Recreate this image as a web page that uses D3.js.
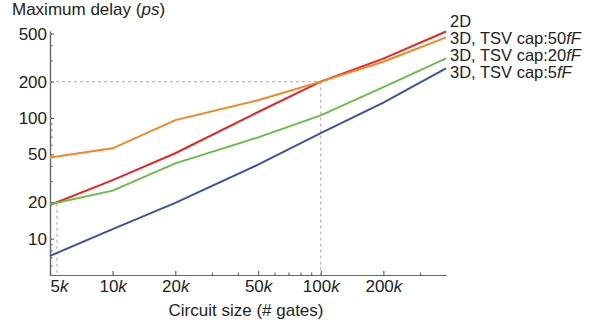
<!DOCTYPE html>
<html>
<head>
<meta charset="UTF-8">
<style>
body { margin: 0; background: white; }
text { font-family: "Liberation Sans", Arial, sans-serif; fill: #222; }
</style>
</head>
<body>
<script src="https://d3js.org/d3.v7.min.js"></script>
<script>

// data
var gates = [5000, 10000, 20000, 50000, 100000, 200000, 400000]
var delay2D = [19, 30.5, 51, 112, 200, 310, 520]
var delay50 = [47, 56, 96, 140, 200, 292, 465]
var delay20 = [19.3, 25, 42, 69, 105, 180, 312]
var delay5 = [7.2, 12, 19.8, 41, 75, 134, 257]
var seriesNames = ['2D', '3D, TSV cap:50', '3D, TSV cap:20', '3D, TSV cap:5']
var seriesColors = ['#ec2327', '#f7861f', '#6bbd45', '#3953a4']
var xMajor = [5000, 10000, 20000, 50000, 100000, 200000]
var xMinor = [30000, 40000, 60000, 70000, 80000, 90000, 300000]
var yMajor = [10, 20, 50, 100, 200, 500]
var yMinor = [6, 7, 8, 9, 30, 40, 60, 70, 80, 90, 300, 400]
// reference marks (dashed)
var refX = [5400, 100000]
var refY = 200

var width = 600, height = 326

var svg = d3.select('body').append('svg')
    .attr('width', width)
    .attr('height', height)

var x = d3.scaleLog().domain([5000, 400000]).range([50, 446])
var y = d3.scaleLog().domain([5, 525]).range([275, 31])

// dashed reference lines
svg.append('line')
    .attr('x1', x(5000)).attr('x2', x(refX[1]))
    .attr('y1', y(refY)).attr('y2', y(refY))
svg.append('line')
    .attr('x1', x(refX[1])).attr('x2', x(refX[1]))
    .attr('y1', y(refY)).attr('y2', y(5))
svg.append('line')
    .attr('x1', x(refX[0])).attr('x2', x(refX[0]))
    .attr('y1', y(19.5)).attr('y2', y(5))
svg.selectAll('line')
    .attr('stroke', '#dca6d6')
    .attr('stroke-width', 1.3)
    .attr('stroke-dasharray', '3,3')

// axes
var xAxis = d3.axisBottom(x).tickValues(xMajor).tickSize(-4).tickSizeOuter(0)
    .tickFormat(d => d / 1000)
var xAxisMinor = d3.axisBottom(x).tickValues(xMinor).tickSize(-2.5).tickSizeOuter(0)
    .tickFormat('')
var yAxis = d3.axisLeft(y).tickValues(yMajor).tickSize(-4).tickSizeOuter(0)
    .tickFormat(d => d)
var yAxisMinor = d3.axisLeft(y).tickValues(yMinor).tickSize(-2.5).tickSizeOuter(0)
    .tickFormat('')

var gx = svg.append('g').attr('transform', 'translate(0,' + y(5) + ')').call(xAxis)
svg.append('g').attr('transform', 'translate(0,' + y(5) + ')').call(xAxisMinor)
var gy = svg.append('g').attr('transform', 'translate(' + x(5000) + ',0)').call(yAxis)
svg.append('g').attr('transform', 'translate(' + x(5000) + ',0)').call(yAxisMinor)

svg.selectAll('.domain, .tick line').attr('stroke', '#666').attr('stroke-width', 1.2)

// tick labels with italic k
gx.selectAll('.tick text')
    .attr('font-size', 17)
    .attr('font-family', '"Liberation Sans", Arial, sans-serif')
    .attr('fill', '#222')
    .attr('y', 5)
    .each(function(d, i) {
      var t = d3.select(this)
      t.text('')
      t.append('tspan').text(d / 1000)
      t.append('tspan').attr('font-style', 'italic').text('k')
      if (i == 0) t.attr('dx', 9)
    })

gy.selectAll('.tick text')
    .attr('font-size', 17)
    .attr('font-family', '"Liberation Sans", Arial, sans-serif')
    .attr('fill', '#222')
    .attr('x', -3)

// series lines
var allSeries = [delay2D, delay50, delay20, delay5]
var line = d3.line()
    .x((d, i) => x(gates[i]))
    .y(d => y(d))

svg.selectAll('.series').data(allSeries).enter()
    .append('path')
    .attr('class', 'series')
    .attr('d', d => line(d))
    .attr('fill', 'none')
    .attr('stroke', (d, i) => seriesColors[i])
    .attr('stroke-width', 2)

// series labels at right end
var labelY = [27, 44, 61, 78]
seriesNames.forEach(function(name, i) {
  var t = svg.append('text')
      .attr('x', 450)
      .attr('y', labelY[i])
      .attr('font-size', 16.5)
  t.append('tspan').text(name)
  if (i > 0) t.append('tspan').attr('font-style', 'italic').text('fF')
})

// axis titles
var title = svg.append('text')
    .attr('x', 12)
    .attr('y', 15)
    .attr('font-size', 17)
title.append('tspan').text('Maximum delay (')
title.append('tspan').attr('font-style', 'italic').text('ps')
title.append('tspan').text(')')

svg.append('text')
    .attr('x', 246)
    .attr('y', 316)
    .attr('text-anchor', 'middle')
    .attr('font-size', 17)
    .text('Circuit size (# gates)')

</script>
</body>
</html>
